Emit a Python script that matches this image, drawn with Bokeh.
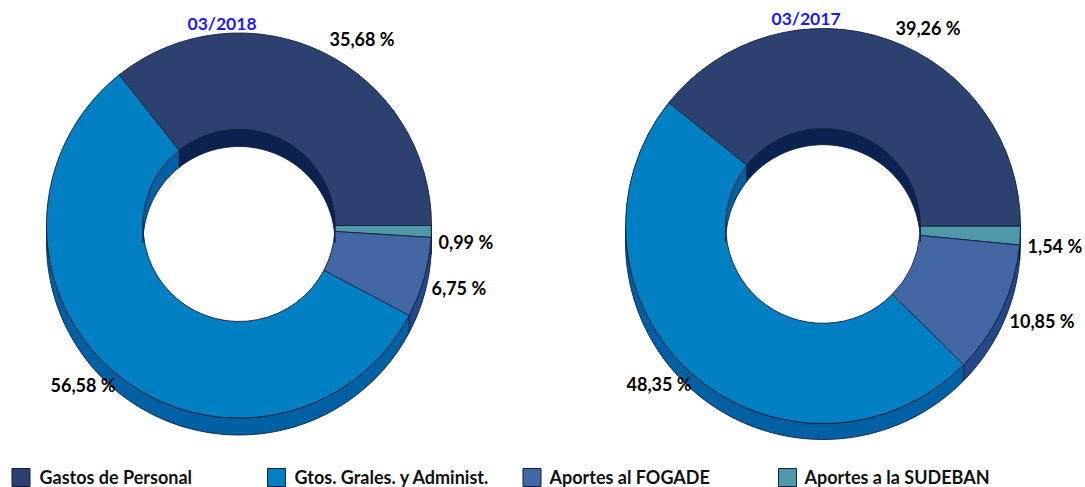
import math
from bokeh.plotting import figure
from bokeh.models import Range1d, ColumnDataSource
from bokeh.core.properties import value
from bokeh.embed import file_html
from bokeh.resources import INLINE

categories = ["Aportes a la SUDEBAN", "Aportes al FOGADE", "Gtos. Grales. y Administ.", "Gastos de Personal"]
legend_order = ["Gastos de Personal", "Gtos. Grales. y Administ.", "Aportes al FOGADE", "Aportes a la SUDEBAN"]
values_2018 = [0.99, 6.75, 56.58, 35.68]
values_2017 = [1.54, 10.85, 48.35, 39.26]
title_2018 = "03/2018"
title_2017 = "03/2017"

H = 487
face = {"Gastos de Personal": "#2D4170", "Gtos. Grales. y Administ.": "#0080C3",
        "Aportes al FOGADE": "#4366A5", "Aportes a la SUDEBAN": "#4F98AA"}
wall = {"Gastos de Personal": "#0B2150", "Gtos. Grales. y Administ.": "#0060A4",
        "Aportes al FOGADE": "#24478A", "Aportes a la SUDEBAN": "#2F7A8C"}
EDGE = "#12203A"
FONT = value("Lato")

p = figure(width=1085, height=487, x_range=Range1d(0, 1085), y_range=Range1d(0, 487),
           output_backend="svg", toolbar_location=None, min_border=0)
p.axis.visible = False
p.grid.visible = False
p.outline_line_color = None


def arc(cx, cy, r, a0, a1, dy=0):
    n = max(2, int(abs(a1 - a0) / 2) + 2)
    pts = [a0 + (a1 - a0) * i / (n - 1) for i in range(n)]
    return ([cx + r * math.cos(math.radians(a)) for a in pts],
            [cy + r * math.sin(math.radians(a)) - dy for a in pts])


def band(cx, cy, r, a0, a1, d):
    x1, y1 = arc(cx, cy, r, a0, a1)
    x2, y2 = arc(cx, cy, r, a1, a0, d)
    return x1 + x2, y1 + y2


def donut(vals, cx, sy, ro, ri, d):
    cy = H - sy
    total = sum(vals)
    start = 360.0
    rows = []
    for cat, v in zip(categories, vals):
        end = start - v / total * 360
        rows.append((cat, end, start))
        start = end
    xs, ys, cs = [], [], []
    for cat, a0, a1 in rows:
        lo, hi = max(a0, 180), min(a1, 360)
        if hi > lo:
            x, y = band(cx, cy, ro, lo, hi, d)
            xs.append(x); ys.append(y); cs.append(wall[cat])
    p.patches(xs, ys, fill_color=cs, line_color=EDGE, line_width=0.9)
    src = ColumnDataSource(dict(
        x=[cx] * 4, y=[cy] * 4,
        a0=[math.radians(r[1]) for r in rows], a1=[math.radians(r[2]) for r in rows],
        c=[face[r[0]] for r in rows]))
    p.annular_wedge("x", "y", inner_radius=ri, outer_radius=ro, start_angle="a0", end_angle="a1",
                    fill_color="c", line_color=EDGE, line_width=0.9, source=src)
    xs, ys, cs = [], [], []
    for cat, a0, a1 in rows:
        lo, hi = max(a0, 0), min(a1, 180)
        if hi > lo:
            x, y = band(cx, cy, ri, lo, hi, d)
            xs.append(x); ys.append(y); cs.append(wall[cat])
    p.patches(xs, ys, fill_color=cs, line_color=EDGE, line_width=0.9)


donut(values_2018, 238.5, 225, 192.5, 96, 17)
donut(values_2017, 822.5, 225.5, 197.5, 97.3, 16)


def fmt(v):
    return f"{v:.2f}".replace(".", ",") + " %"


def label(txts, xs, ys, color="#000000", size="18px", weight="bold"):
    p.text(xs, [H - y for y in ys], text=txts, text_font=FONT, text_font_size=size,
           text_font_style=weight, text_color=color, text_align="left", text_baseline="middle")


label([fmt(v) for v in values_2018], [438, 431, 50, 329], [241.5, 287.5, 384.5, 38])
label([fmt(v) for v in values_2017], [1027, 1009, 626, 895], [245, 320, 383, 27])
label([title_2018], [187], [23], "#1A1AFF", "17.5px", "bold")
label([title_2017], [771], [18], "#1A1AFF", "17.5px", "bold")

swatch_x = [11 + 255.5 * i for i in range(4)]
legend_x = [39 + 255 * i for i in range(4)]
p.rect([x + 9.5 for x in swatch_x], [H - 477] * 4, width=18, height=18,
       fill_color=[face[c] for c in legend_order], line_color=EDGE, line_width=1)
label(legend_order, legend_x, [476] * 4, "#111111", "18px", "bold")

open("out.html", "w").write(file_html(p, INLINE))
